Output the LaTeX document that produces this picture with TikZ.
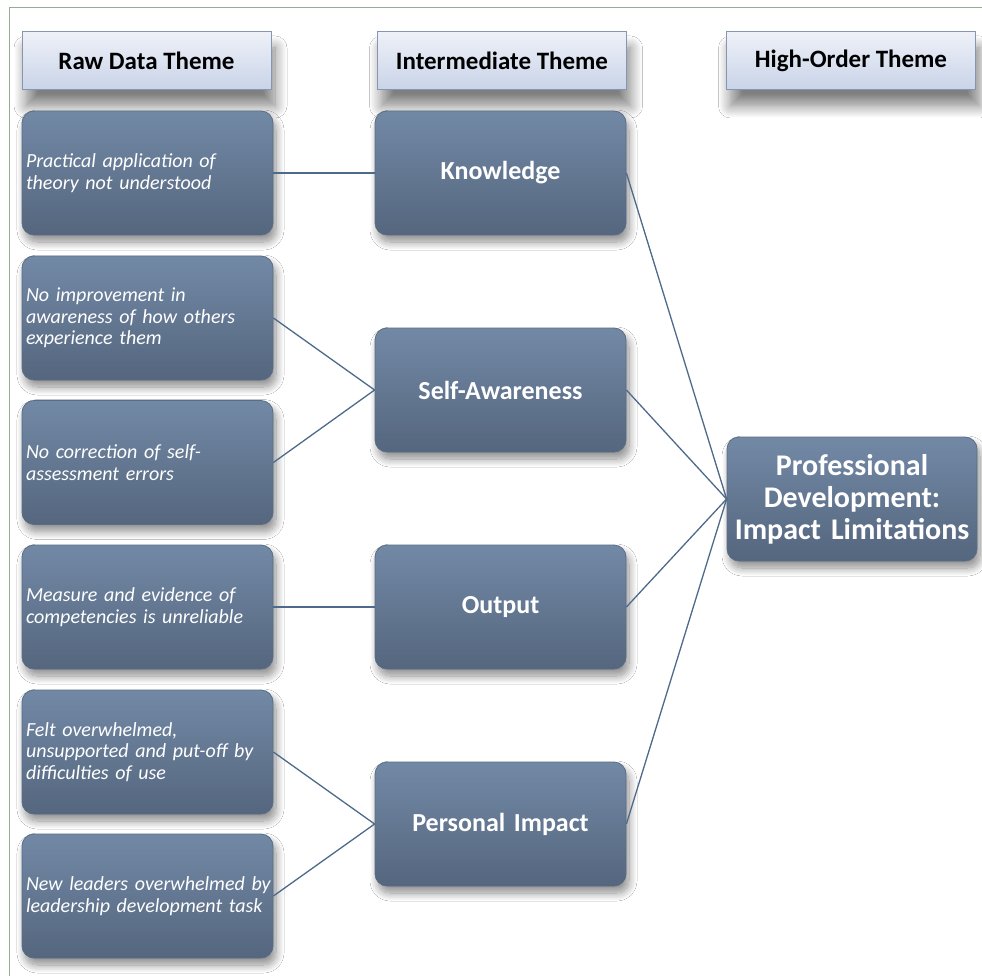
\documentclass[tikz,border=0pt]{standalone}
\usepackage{fontspec}
\setmainfont{Carlito}
\usetikzlibrary{shadows.blur}
\definecolor{boxtop}{HTML}{7289A6}
\definecolor{boxbot}{HTML}{55667E}
\definecolor{boxedge}{HTML}{5A6D86}
\definecolor{hdtop}{HTML}{EEF1F8}
\definecolor{hdbot}{HTML}{C9D4E8}
\definecolor{hdedge}{HTML}{8796B0}
\definecolor{linkcol}{HTML}{4E6A8A}
\definecolor{framecol}{HTML}{9AA89A}
\tikzset{
  hdbox/.style={draw=hdedge, line width=1pt, top color=hdtop, bottom color=hdbot,
    minimum width=249pt, minimum height=58pt, inner sep=0pt,
    font=\fontsize{25}{28}\selectfont\bfseries, text=black,
    blur shadow={shadow xshift=4pt, shadow yshift=-16pt, shadow blur steps=14, shadow opacity=50, shadow blur radius=12pt}},
  rawbox/.style={draw=boxedge, line width=0.8pt, rounded corners=12pt, top color=boxtop, bottom color=boxbot,
    minimum width=251pt, minimum height=124pt, text width=243pt, inner xsep=4pt, align=left,
    font=\fontsize{20}{21.7}\selectfont\itshape, text=white,
    blur shadow={shadow xshift=3pt, shadow yshift=-7pt, shadow blur steps=12, shadow opacity=45, shadow blur radius=8pt}},
  midbox/.style={rawbox, text width=241pt, align=center, font=\fontsize{26}{30}\selectfont\bfseries},
  hobox/.style={rawbox, minimum width=250pt, text width=246pt, inner xsep=2pt, align=center, font=\fontsize{30}{32}\selectfont\bfseries},
  link/.style={draw=linkcol, line width=1.3pt}
}
\begin{document}
\begin{tikzpicture}[x=1pt, y=-1pt]
\useasboundingbox (0,0) rectangle (982,976);
\fill[white] (0,0) rectangle (982,976);
\draw[framecol, line width=1pt] (9,990) -- (9,8) -- (995,8);

\node[hdbox] (h1) at (146.5,61) {Raw Data Theme};
\node[hdbox] (h2) at (502,61) {Intermediate Theme};
\node[hdbox] (h3) at (851,61) {High-Order Theme};

\node[rawbox] (r1) at (147.5,173) {Practical application of\\theory not understood};
\node[rawbox] (r2) at (147.5,318) {No improvement in\\awareness of how others\\experience them};
\node[rawbox] (r3) at (147.5,462.5) {No correction of self-\\assessment errors};
\node[rawbox] (r4) at (147.5,607) {Measure and evidence of\\competencies is unreliable};
\node[rawbox] (r5) at (147.5,752) {Felt overwhelmed,\\unsupported and put-off by\\difficulties of use};
\node[rawbox] (r6) at (147.5,896) {\mbox{New leaders overwhelmed by}\\leadership development task};

\node[midbox] (m1) at (500.5,173) {Knowledge};
\node[midbox] (m2) at (500.5,390) {Self-Awareness};
\node[midbox] (m3) at (500.5,607) {Output};
\node[midbox] (m4) at (500.5,824) {Personal Impact};

\node[hobox] (ho) at (852,499) {Professional\\Development:\\Impact Limitations};

\draw[link] (r1.east) -- (m1.west);
\draw[link] (r2.east) -- (m2.west);
\draw[link] (r3.east) -- (m2.west);
\draw[link] (r4.east) -- (m3.west);
\draw[link] (r5.east) -- (m4.west);
\draw[link] (r6.east) -- (m4.west);
\draw[link] (m1.east) -- (ho.west);
\draw[link] (m2.east) -- (ho.west);
\draw[link] (m3.east) -- (ho.west);
\draw[link] (m4.east) -- (ho.west);
\end{tikzpicture}
\end{document}
